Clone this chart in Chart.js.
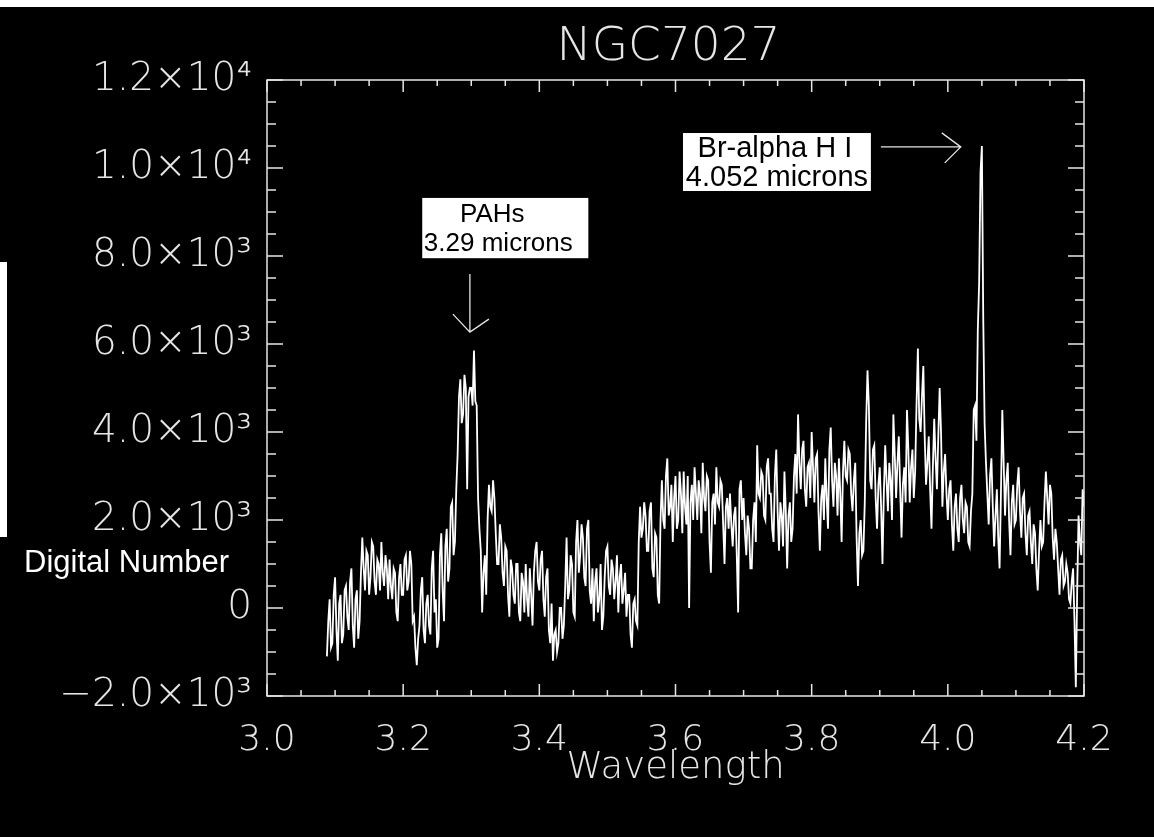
<!DOCTYPE html>
<html>
<head>
<meta charset="utf-8">
<script src="https://cdn.jsdelivr.net/npm/chart.js@4.4.1/dist/chart.umd.min.js"></script>
<style>
  html, body { margin: 0; padding: 0; background: #000; }
</style>
</head>
<body>
<canvas id="spectrum" width="1154" height="837"></canvas>
<script>
const wavelengthStart = 3.088;
const wavelengthStep = 0.002;
const digitalNumber = [
  -1100, -300, 200, -900, -800, 300,                          // 3.088
  700, -500, -1200, 100, 300, -800, -600, 400, 500, -200,     // 3.100
  -500, 600, 900, -400, -900, 200, 400, -700, -300, 800,      // 3.120
  1600, 900, 400, 1300, 1200, 300, 700, 1500, 1400, 600,      // 3.140
  300, 1100, 1000, 400, 1500, 800, 500, 1200, 900, 200,       // 3.160
  1100, 500, 200, 900, 800, -100, -300, 700, 1000, 300,       // 3.180
  300, 1100, 1200, 400, 600, 1300, 1000, -300, -200, -900,    // 3.200
  -1300, -700, -400, 400, 700, -500, -800, 100, 300, -400,    // 3.220
  -600, 900, 1300, -100, 200, -900, -700, 1200, 1700, 400,    // 3.240
  -300, 1400, 1800, 600, 900, 2300, 2400, 1200, 1500, 2700,   // 3.260
  3500, 4800, 5200, 4200, 4400, 5300, 5000, 2700, 4800, 5000, // 3.280
  5000, 4600, 5850, 4700, 4600, 2500, 1800, 1300, -100, 800,  // 3.300
  1200, 300, 2000, 2800, 2300, 2200, 2900, 2500, 1700, 1000,  // 3.320
  1000, 1900, 1600, 800, 500, 1400, 1300, 300, -200, 1100,    // 3.340
  900, 300, 100, 1000, 1000, -100, -300, 800, 600, -100,      // 3.360
  1000, 200, -200, 900, 300, -400, 800, 1300, 1500, 600,      // 3.380
  400, 1100, 1300, 200, -200, 700, 900, -500, -800, 100,      // 3.400
  -1200, -600, -500, -1000, -800, 0, 0, -700, -400, 500,      // 3.420
  1600, 200, 400, 1200, 1000, -100, -200, 1500, 2000, 800,    // 3.440
  1200, 1900, 1600, 700, 500, 1800, 2000, 400, 100, 900,      // 3.460
  -300, 600, 900, -100, 200, 1000, -500, -200, 700, 1300,     // 3.480
  1400, 500, 300, 1100, 900, 200, 600, 1200, -100, 700,       // 3.500
  1000, 100, 400, 800, -200, 300, 300, -600, -900, 100,       // 3.520
  200, -300, -400, 1500, 2300, 1600, 1800, 2400, 2100, 1300,  // 3.540
  1300, 2200, 2400, 900, 700, 1700, 1600, 300, 100, 2000,     // 3.560
  2900, 2000, 1800, 3000, 3400, 2100, 2300, 2800, 1500, 2500, // 3.580
  3000, 1800, 2000, 3100, 2600, 1700, 3100, 2300, 1900, 3000, // 3.600
  0, 2400, 2800, 2000, 3200, 2600, 2000, 2900, 2600, 1700,    // 3.620
  3300, 2500, 2200, 3000, 2900, 1500, 800, 2400, 2600, 1900,  // 3.640
  3200, 2400, 2300, 2900, 2800, 1900, 1000, 2300, 2500, 1800, // 3.660
  2600, 1900, 1400, 2100, 2300, 1200, -100, 2700, 2900, 2000, // 3.680
  2500, 1700, 1200, 2100, 1800, 900, 900, 2000, 2400, 1500,   // 3.700
  3700, 2600, 2500, 3100, 3000, 2100, 2000, 3200, 3400, 2600, // 3.720
  2600, 1800, 1500, 3000, 3600, 2200, 1300, 2400, 2100, 1400, // 3.740
  3100, 2200, 900, 2100, 2400, 1500, 1800, 3000, 3500, 2600,  // 3.760
  4400, 3300, 2700, 3600, 3800, 2700, 2300, 3200, 3300, 2500, // 3.780
  4000, 3200, 2400, 3400, 3500, 2200, 1300, 2500, 2800, 2000, // 3.800
  3400, 2500, 1800, 3600, 4100, 2900, 2300, 3300, 3000, 2100, // 3.820
  3400, 2600, 1500, 3100, 3800, 3000, 2900, 3600, 3500, 2600, // 3.840
  2200, 2900, 3300, 1600, 500, 1700, 2000, 1200, 1300, 2400,  // 3.860
  4200, 5400, 4600, 2900, 2700, 3600, 3700, 2500, 1800, 2800, // 3.880
  3200, 2300, 1000, 2600, 3700, 2900, 2200, 3300, 2900, 2000, // 3.900
  4400, 3500, 2500, 3300, 3900, 2700, 1600, 2800, 3200, 2400, // 3.920
  4500, 3600, 2400, 3200, 3600, 2500, 3100, 4600, 5900, 4300, // 3.940
  4000, 4800, 5500, 3900, 2800, 3300, 3900, 2700, 1800, 3200, // 3.960
  4300, 3400, 2700, 3900, 5000, 4000, 2300, 3100, 3500, 2600, // 3.980
  2000, 2700, 2900, 1900, 1300, 2300, 2600, 1800, 1500, 2500, // 4.000
  2800, 2000, 1700, 2400, 2300, 1500, 1400, 2200, 2600, 4500, // 4.020
  4600, 3800, 6300, 7400, 9900, 10500, 6600, 4200, 3300, 2600, // 4.040
  1900, 3000, 3400, 2300, 1400, 2100, 2700, 1600, 900, 2600,  // 4.060
  4500, 3300, 2100, 2900, 3300, 2000, 1200, 2400, 2800, 1900, // 4.080
  2000, 2800, 3200, 2200, 1600, 2500, 2600, 1700, 1200, 2100, // 4.100
  2200, 1500, 1000, 1900, 1700, 900, 400, 1300, 2000, 1400,   // 4.120
  1500, 2400, 3100, 2500, 1900, 2800, 2600, 1600, 1100, 1800, // 4.140
  1500, 900, 300, 1100, 1200, 500, 600, 1000, 800, 200,       // 4.160
  100, 600, 900, -300, -1800, 400, 2100, 1500, 1200, 2700,    // 4.180
  2300                                                        // 4.200
];

const xTickValues = [3.0, 3.2, 3.4, 3.6, 3.8, 4.0, 4.2];
const xTickLabels = ["3.0", "3.2", "3.4", "3.6", "3.8", "4.0", "4.2"];
const yTickValues = [-2000, 0, 2000, 4000, 6000, 8000, 10000, 12000];
const yTickLabels = ["\u22122.0\u00d710\u00b3", "0", "2.0\u00d710\u00b3", "4.0\u00d710\u00b3",
                     "6.0\u00d710\u00b3", "8.0\u00d710\u00b3", "1.0\u00d710\u2074", "1.2\u00d710\u2074"];

// line annotations, in data units
const pahNote = { left: 3.228, right: 3.472, top: 9320, bottom: 7950, lines: ["PAHs", "3.29 microns"],
                  size: 26, shift: [-13, -7], arrowX: 3.298, arrowFrom: 7590, arrowTo: 6270 };
const brNote = { left: 3.611, right: 3.887, top: 10795, bottom: 9477, lines: ["Br-alpha H I", "4.052 microns"],
                 size: 29, shift: [-2, 0], arrowY: 10480, arrowFrom: 3.9016, arrowTo: 4.019 };

const thinFont = "'DejaVu Sans', sans-serif";
const ink = "#e6e6e6";

const points = digitalNumber.map((v, i) => ({ x: +(wavelengthStart + i * wavelengthStep).toFixed(3), y: v }));

const backdrop = {
    id: "backdrop",
    beforeDraw(chart) {
        const c = chart.ctx;
        c.save();
        c.fillStyle = "#000";
        c.fillRect(0, 0, chart.width, chart.height);
        c.fillStyle = "#fff";
        c.fillRect(0, 0, chart.width, 7);
        c.fillRect(0, 262, 7, 275);
        c.restore();
    }
};

const frameTicks = {
    id: "frameTicks",
    afterDraw(chart) {
        const c = chart.ctx;
        const a = chart.chartArea;
        const xs = chart.scales.x, ys = chart.scales.y;
        c.save();
        c.strokeStyle = ink;
        c.lineWidth = 1.5;
        c.strokeRect(a.left, a.top, a.right - a.left, a.bottom - a.top);
        c.beginPath();
        for (let k = 0; k <= 24; k++) {
            const px = xs.getPixelForValue(3.0 + k * 0.05);
            const len = k % 4 === 0 ? 12 : 6;
            c.moveTo(px, a.bottom); c.lineTo(px, a.bottom - len);
            c.moveTo(px, a.top); c.lineTo(px, a.top + len);
        }
        for (let k = 0; k <= 28; k++) {
            const py = ys.getPixelForValue(-2000 + k * 500);
            const len = k % 4 === 0 ? 16 : 9;
            c.moveTo(a.left, py); c.lineTo(a.left + len, py);
            c.moveTo(a.right, py); c.lineTo(a.right - len, py);
        }
        c.stroke();
        c.restore();
    }
};

function drawNote(c, xs, ys, note) {
    const l = xs.getPixelForValue(note.left), r = xs.getPixelForValue(note.right);
    const t = ys.getPixelForValue(note.top), b = ys.getPixelForValue(note.bottom);
    c.fillStyle = "#fff";
    c.fillRect(l, t, r - l, b - t);
    c.fillStyle = "#000";
    c.font = note.size + "px 'Liberation Sans', Arial, sans-serif";
    c.textAlign = "center";
    c.textBaseline = "alphabetic";
    const cx = (l + r) / 2;
    c.fillText(note.lines[0], cx + note.shift[0], t + 24);
    c.fillText(note.lines[1], cx + note.shift[1], t + 53);
}

const notes = {
    id: "notes",
    afterDraw(chart) {
        const c = chart.ctx;
        const a = chart.chartArea;
        const xs = chart.scales.x, ys = chart.scales.y;
        c.save();
        // title
        c.fillStyle = ink;
        c.font = "200 47px " + thinFont;
        c.textAlign = "center";
        c.textBaseline = "alphabetic";
        c.fillText("NGC7027", (a.left + a.right) / 2 - 7, 60);
        // y label
        c.fillStyle = "#fff";
        c.font = "31px 'Liberation Sans', Arial, sans-serif";
        c.textAlign = "left";
        c.fillText("Digital Number", 24, 572);

        drawNote(c, xs, ys, pahNote);
        drawNote(c, xs, ys, brNote);

        c.strokeStyle = ink;
        c.lineWidth = 1.3;
        c.beginPath();
        // PAH arrow
        const ax = xs.getPixelForValue(pahNote.arrowX);
        const ay0 = ys.getPixelForValue(pahNote.arrowFrom), ay1 = ys.getPixelForValue(pahNote.arrowTo);
        c.moveTo(ax, ay0); c.lineTo(ax, ay1);
        c.moveTo(ax - 17, ay1 - 18); c.lineTo(ax, ay1); c.lineTo(ax + 19, ay1 - 13);
        // Br arrow
        const by = ys.getPixelForValue(brNote.arrowY);
        const bx0 = xs.getPixelForValue(brNote.arrowFrom), bx1 = xs.getPixelForValue(brNote.arrowTo);
        c.moveTo(bx0, by); c.lineTo(bx1, by);
        c.moveTo(bx1 - 19, by - 14); c.lineTo(bx1, by); c.lineTo(bx1 - 16, by + 16);
        c.stroke();
        c.restore();
    }
};

const ctx = document.getElementById("spectrum");

const chart = new Chart(ctx, {
    type: "line",
    data: {
        datasets: [
            {
                label: "NGC7027",
                data: points,
                borderColor: "#ffffff",
                borderWidth: 1.8,
                pointRadius: 0,
                tension: 0,
                fill: false
            }
        ]
    },
    options: {
        responsive: false,
        animation: false,
        devicePixelRatio: 1,
        layout: {
            padding: { top: 80, right: 70, bottom: 0, left: 0 }
        },
        scales: {
            x: {
                type: "linear",
                min: 3.0,
                max: 4.2,
                afterBuildTicks: function(scale) {
                    scale.ticks = xTickValues.map(v => ({ value: v }));
                },
                afterFit: function(scale) {
                    scale.height = 141;
                },
                grid: { display: false },
                border: { display: false },
                ticks: {
                    color: ink,
                    padding: 15,
                    maxRotation: 0,
                    autoSkip: false,
                    font: { family: thinFont, size: 36, weight: 200 },
                    callback: function(value) {
                        const i = xTickValues.findIndex(v => Math.abs(v - value) < 1e-6);
                        return i >= 0 ? xTickLabels[i] : "";
                    }
                },
                title: {
                    display: true,
                    text: "Wavelength",
                    color: ink,
                    font: { family: thinFont, size: 37, weight: 200 },
                    padding: { top: 0, bottom: 46 }
                }
            },
            y: {
                type: "linear",
                min: -2000,
                max: 12000,
                afterBuildTicks: function(scale) {
                    scale.ticks = yTickValues.map(v => ({ value: v }));
                },
                afterFit: function(scale) {
                    scale.width = 267;
                },
                grid: { display: false },
                border: { display: false },
                ticks: {
                    color: ink,
                    padding: 7,
                    autoSkip: false,
                    font: { family: thinFont, size: 39, weight: 200 },
                    callback: function(value) {
                        const i = yTickValues.indexOf(value);
                        return i >= 0 ? yTickLabels[i] : "";
                    }
                }
            }
        },
        plugins: {
            legend: { display: false },
            title: { display: false },
            tooltip: { enabled: false }
        }
    },
    plugins: [backdrop, frameTicks, notes]
});
</script>
</body>
</html>
